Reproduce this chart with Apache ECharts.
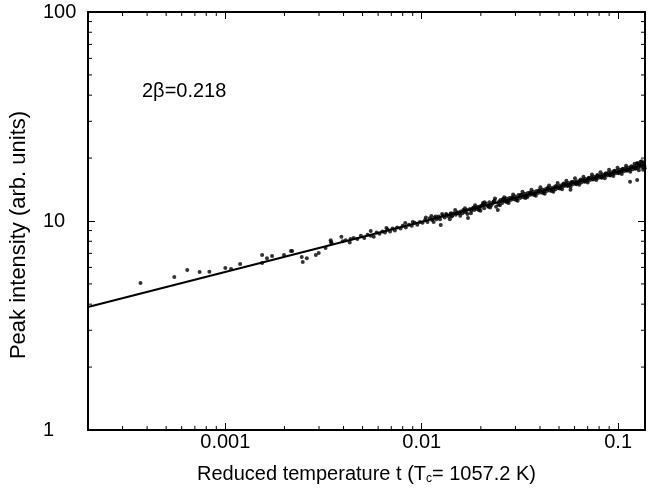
<!DOCTYPE html>
<html>
<head>
<meta charset="utf-8">
<script src="https://cdn.jsdelivr.net/npm/echarts@6/dist/echarts.min.js"></script>
<style>
html,body{margin:0;padding:0;background:#fff;}
#chart{width:652px;height:492px;}
</style>
</head>
<body>
<div id="chart"></div>
<script>
// ---- data ----
const xRange = [0.0002, 0.137];
const yRange = [1, 100];
const xTickLabels = ['0.001', '0.01', '0.1'];
const yTickLabels = ['1', '10', '100'];
const xMinorTicks = [0.0003,0.0004,0.0005,0.0006,0.0007,0.0008,0.0009,
  0.002,0.003,0.004,0.005,0.006,0.007,0.008,0.009,
  0.02,0.03,0.04,0.05,0.06,0.07,0.08,0.09];
const yMinorTicks = [2,3,4,5,6,7,8,9,20,30,40,50,60,70,80,90];
const fitLine = [[0.0002, 3.88], [0.137, 18.6]];
const annotation = '2\u03b2=0.218';

const sparsePoints = [
  [0.00037,5.05],[0.00055,5.4],[0.00064,5.83],[0.00074,5.7],[0.00083,5.72],
  [0.001,5.96],[0.00107,5.9],[0.00119,6.23],[0.00154,6.88],[0.00154,6.29],
  [0.00163,6.64],[0.00173,6.8],[0.00199,6.88],[0.00216,7.18],[0.00219,7.18],
  [0.00245,6.72],[0.00248,6.36],[0.0026,6.64],[0.00289,6.88],[0.00299,7.03],
  [0.00324,7.43],[0.00344,8.1],[0.00345,7.93],[0.00348,7.85],[0.0039,8.4],[0.00396,8.0],
  [0.00434,8.2],[0.0055,8.96],[0.00661,9.26],[0.00824,9.78],[0.0090,9.89],
  [0.0112,10.57],[0.0125,9.57],[0.0141,10.9],[0.0172,10.33],[0.0205,12.2],
  [0.0244,11.3],[0.0358,13.6],[0.0572,14.1],[0.115,15.4],[0.125,15.7],[0.125,18.9]
];
const bandPointsA = [
  [0.0041,8.1],[0.0043,7.9],[0.0045,8.3],[0.0047,8.2],[0.0049,8.5],[0.0051,8.3],[0.0053,8.6],
  [0.0055,8.5],[0.0057,8.4],[0.0059,8.8],[0.0061,8.7],[0.0063,8.9],[0.0065,8.8],[0.0067,9.1],
  [0.0069,8.9],[0.0071,9.2],[0.0073,9.0],[0.0075,9.3],[0.0078,9.2],[0.0080,9.5],[0.0083,9.3],
  [0.0086,9.6],[0.0089,9.5],[0.0092,9.8],[0.0095,9.6],[0.0098,9.9],
  [0.0101,9.8],[0.0104,10.1],[0.0107,9.9],[0.0110,10.3],[0.0113,10.1],[0.0116,10.4],
  [0.0119,10.2],[0.0122,10.5],[0.0128,10.6],[0.0131,10.4],[0.0134,10.7],[0.0137,10.5],
  [0.0140,10.8],[0.0143,10.6],[0.0146,10.9],[0.0149,10.7],[0.0152,11.0],[0.0155,10.9],
  [0.0158,11.1],[0.0161,10.9],[0.0164,11.2],[0.0167,11.0],[0.0170,11.3],[0.0176,11.4],
  [0.0179,11.2],[0.0182,11.5],[0.0185,11.3],[0.0188,11.6],[0.0191,11.4],[0.0194,11.7],
  [0.0197,11.5],[0.0200,11.8],
  [0.0203,11.9],[0.0208,11.5],[0.0212,12.1],[0.0217,11.8],[0.0221,12.3],[0.0226,11.9],
  [0.0230,12.2],[0.0235,12.5],[0.0239,11.7],[0.0248,12.4],[0.0252,12.6],[0.0257,12.2],
  [0.0261,12.7],[0.0266,12.4],[0.0270,12.8],[0.0275,12.5],[0.0280,12.9],[0.0284,12.6],
  [0.0289,13.0],[0.0294,12.7],[0.0299,13.1],[0.0305,12.8],[0.0311,13.3],[0.0317,12.9],
  [0.0323,13.4],[0.0329,13.0],[0.0335,13.5],[0.0341,13.2],[0.0347,13.6],[0.0353,13.3],
  [0.0364,13.4],[0.0370,13.8],[0.0377,13.5],[0.0384,13.9],[0.0391,13.6],[0.0398,14.0],
  [0.0405,13.7],[0.0412,14.1],[0.0419,13.8],[0.0426,14.2],[0.0433,13.9],[0.0440,14.3],
  [0.0448,14.0],[0.0456,14.4],[0.0464,14.1],[0.0472,14.5],[0.0480,14.2],[0.0489,14.6],
  [0.0497,14.4],
  [0.0506,14.8],[0.0515,14.5],[0.0524,15.0],[0.0533,14.7],[0.0542,15.1],[0.0551,14.8],
  [0.0560,15.2],[0.0569,14.9],[0.0579,15.3],[0.0589,15.0],[0.0599,15.4],[0.0609,15.1],
  [0.0619,15.5],[0.0629,15.2],[0.0640,15.6],[0.0651,15.3],[0.0662,15.8],[0.0673,15.5],
  [0.0684,15.9],[0.0695,15.6],[0.0707,16.0],[0.0719,15.7],[0.0731,16.2],[0.0743,15.9],
  [0.0755,16.3],[0.0768,16.0],[0.0781,16.4],[0.0794,16.1],[0.0807,16.5],[0.0821,16.2],
  [0.0835,16.7],[0.0849,16.4],[0.0863,16.8],[0.0877,16.5],[0.0892,17.0],[0.0907,16.6],
  [0.0922,17.1],[0.0938,16.8],[0.0954,17.3],[0.0970,16.9],[0.0986,17.4],[0.1003,17.0],
  [0.1020,17.6],[0.1037,17.2],[0.1054,17.7],[0.1072,17.3],[0.1090,17.9],[0.1108,17.5],
  [0.1127,18.0],[0.1146,17.6],[0.1165,18.1],[0.1185,17.7],[0.1205,18.3],[0.1225,17.9],
  [0.1245,18.5],[0.1252,18.9],[0.1265,18.0],[0.1286,18.6],[0.1300,19.2],[0.1307,18.2],
  [0.1329,18.8],[0.1340,17.6],[0.1351,19.0],[0.1360,18.4]
];
const bandPointsB = [
  [0.0118,10.5],[0.0124,10.2],[0.0133,10.8],[0.0142,10.5],[0.0151,10.9],[0.0163,11.3],
  [0.0171,10.8],[0.0184,11.6],[0.0195,11.3],[0.0206,12.0],[0.0219,11.7],[0.0232,12.4],
  [0.0246,12.0],[0.0259,12.7],[0.0272,12.3],[0.0287,12.9],[0.0302,12.6],[0.0319,13.3],
  [0.0337,12.9],[0.0356,13.7],[0.0374,13.3],[0.0394,14.0],[0.0415,13.6],[0.0437,14.4],
  [0.0459,13.9],[0.0482,14.7],[0.0503,14.3],[0.0528,15.1],[0.0554,14.7],[0.0582,15.4],
  [0.0613,15.0],[0.0644,15.8],[0.0676,15.4],[0.0710,16.1],[0.0746,15.8],[0.0784,16.6],
  [0.0824,16.1],[0.0866,16.9],[0.0910,16.5],[0.0957,17.4],[0.1006,16.9],[0.1057,17.8],
  [0.1110,17.4],[0.1166,18.3],[0.1224,17.8],[0.1283,18.7],[0.1345,18.1]
];
const bandPointsC = [
  [0.0105,10.4],[0.0115,9.9],[0.0127,10.8],[0.0139,10.2],[0.0148,11.3],[0.0157,10.6],
  [0.0166,11.5],[0.0178,10.9],[0.0187,11.9],[0.0199,11.2],[0.0209,12.3],[0.0223,11.6],
  [0.0236,12.8],[0.0250,11.9],[0.0263,13.0],[0.0277,12.2],[0.0292,13.4],[0.0308,12.5],
  [0.0326,13.8],[0.0344,13.0],[0.0362,14.1],[0.0381,13.2],[0.0402,14.5],[0.0423,13.5],
  [0.0445,14.8],[0.0468,13.8],[0.0492,15.2],[0.0518,14.2],[0.0545,15.6],[0.0573,14.6],
  [0.0603,16.0],[0.0634,14.9],[0.0666,16.3],[0.0700,15.3],[0.0736,16.7],[0.0774,15.7],
  [0.0813,17.1],[0.0855,16.0],[0.0899,17.6],[0.0945,16.4],[0.0993,18.0],[0.1044,16.8],
  [0.1097,18.4],[0.1153,17.2],[0.1212,18.8],[0.1274,17.5],[0.1320,19.3],[0.1365,17.9]
];

// ---- chart ----
const FONT = '"Liberation Sans", Arial, Helvetica, sans-serif';
const chart = echarts.init(document.getElementById('chart'), null, {renderer: 'canvas'});

function fmtX(v) {
  const i = Math.round(Math.log10(v)) + 3;
  return xTickLabels[i] !== undefined ? xTickLabels[i] : '';
}
function fmtY(v) {
  const i = Math.round(Math.log10(v));
  return yTickLabels[i] !== undefined ? yTickLabels[i] : '';
}
function minorTickRenderer(axisDir) {
  return function (params, api) {
    const v = api.value(axisDir === 'x' ? 0 : 1);
    const L = 4;
    let a, b, children;
    if (axisDir === 'x') {
      a = api.coord([v, yRange[0]]);
      b = api.coord([v, yRange[1]]);
      children = [
        {type: 'line', shape: {x1: a[0], y1: a[1], x2: a[0], y2: a[1] - L}, style: {stroke: '#000', lineWidth: 1}},
        {type: 'line', shape: {x1: b[0], y1: b[1], x2: b[0], y2: b[1] + L}, style: {stroke: '#000', lineWidth: 1}}
      ];
    } else {
      a = api.coord([xRange[0], v]);
      b = api.coord([xRange[1], v]);
      children = [
        {type: 'line', shape: {x1: a[0], y1: a[1], x2: a[0] + L, y2: a[1]}, style: {stroke: '#000', lineWidth: 1}},
        {type: 'line', shape: {x1: b[0], y1: b[1], x2: b[0] - L, y2: b[1]}, style: {stroke: '#000', lineWidth: 1}}
      ];
    }
    return {type: 'group', children: children};
  };
}

const frameAxisCommon = {
  type: 'log',
  logBase: 10,
  axisLine: {show: true, onZero: false, lineStyle: {color: '#000', width: 2}},
  axisTick: {show: true, inside: true, length: 7, lineStyle: {color: '#000', width: 1}},
  splitLine: {show: false},
  minorTick: {show: false},
  minorSplitLine: {show: false}
};

const option = {
  animation: false,
  backgroundColor: '#fff',
  grid: {left: 85, right: 7, top: 12, bottom: 62, containLabel: false},
  xAxis: [
    Object.assign({}, frameAxisCommon, {
      position: 'bottom', min: xRange[0], max: xRange[1],
      axisLabel: {show: true, formatter: fmtX, color: '#000', fontFamily: FONT, fontSize: 20, margin: 2,
        showMinLabel: false, showMaxLabel: false},
      name: 'Reduced temperature t (T{sub|c}= 1057.2 K)',
      nameLocation: 'middle', nameGap: 33,
      nameTextStyle: {color: '#000', fontFamily: FONT, fontSize: 20,
        rich: {sub: {fontFamily: FONT, fontSize: 12, color: '#000', padding: [10, 0, 0, 0]}}}
    }),
    Object.assign({}, frameAxisCommon, {
      position: 'top', min: xRange[0], max: xRange[1], axisLabel: {show: false}
    })
  ],
  yAxis: [
    Object.assign({}, frameAxisCommon, {
      position: 'left', min: yRange[0], max: yRange[1],
      axisLabel: {show: true, formatter: fmtY, color: '#000', fontFamily: FONT, fontSize: 20,
        margin: 45, align: 'left'},
      name: 'Peak intensity (arb. units)',
      nameLocation: 'middle', nameGap: 58, nameRotate: 90,
      nameTextStyle: {color: '#000', fontFamily: FONT, fontSize: 22, padding: [0, 28, 0, 0]}
    }),
    Object.assign({}, frameAxisCommon, {
      position: 'right', min: yRange[0], max: yRange[1], axisLabel: {show: false}
    })
  ],
  graphic: [{
    type: 'text', left: 142, top: 81, silent: true,
    style: {text: annotation, fill: '#000', font: '20px ' + FONT}
  }],
  series: [
    {
      type: 'line', data: fitLine, xAxisIndex: 0, yAxisIndex: 0,
      showSymbol: false, symbol: 'none', lineStyle: {color: '#000', width: 2}, z: 3, silent: true
    },
    {
      type: 'scatter', data: sparsePoints.concat(bandPointsA, bandPointsB, bandPointsC), xAxisIndex: 0, yAxisIndex: 0,
      symbol: 'circle', symbolSize: 4, itemStyle: {color: '#000'}, z: 4, silent: true
    },
    {
      type: 'custom', xAxisIndex: 0, yAxisIndex: 0, silent: true, clip: false, z: 5,
      data: xMinorTicks.map(v => [v, yRange[0]]), renderItem: minorTickRenderer('x')
    },
    {
      type: 'custom', xAxisIndex: 0, yAxisIndex: 0, silent: true, clip: false, z: 5,
      data: yMinorTicks.map(v => [xRange[0], v]), renderItem: minorTickRenderer('y')
    }
  ]
};
chart.setOption(option);
</script>
</body>
</html>
